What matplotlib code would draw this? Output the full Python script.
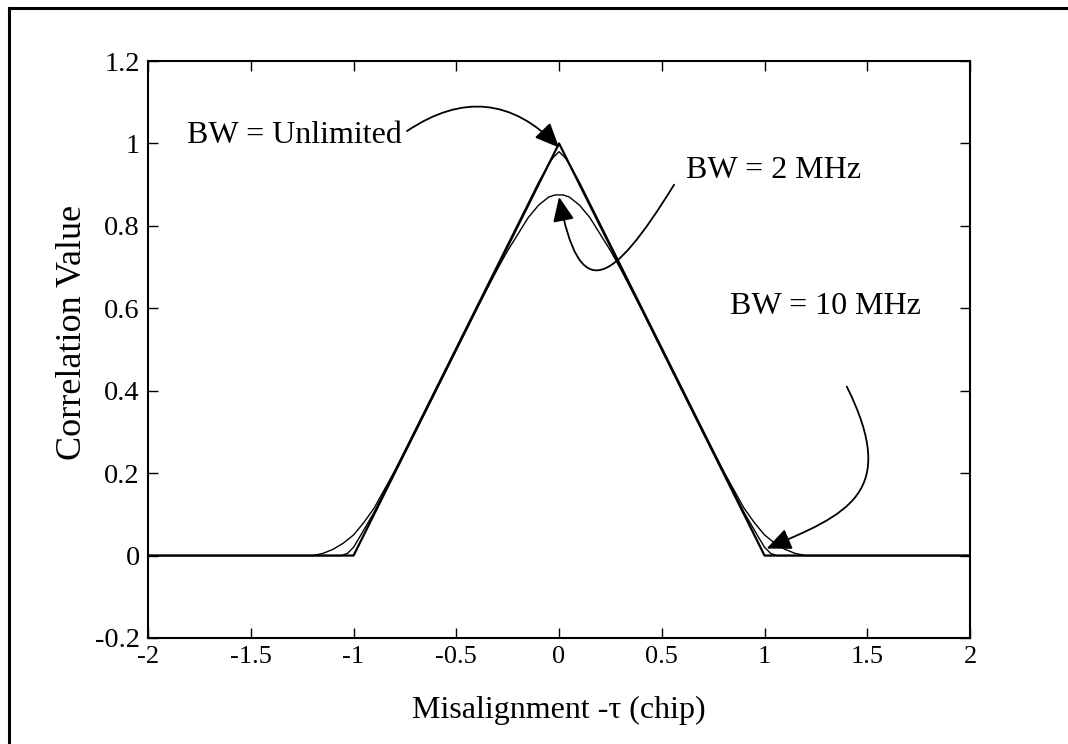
import numpy as np
import matplotlib
matplotlib.use("Agg")
import matplotlib.pyplot as plt
from matplotlib.patches import FancyArrowPatch
from matplotlib.path import Path
from matplotlib.lines import Line2D

plt.rcParams['font.family'] = ['Liberation Serif', 'DejaVu Serif']

# correlation curves (left half, mirrored below)
tau_unlim = [-2.0, -1.0, 0.0, 1.0, 2.0]
corr_unlim = [0.0, 0.0, 1.0, 0.0, 0.0]

tau_10_half = [-2.0, -1.06, -1.03, -1.0, -0.97, -0.9, -0.5, -0.1, -0.05, -0.03, 0.0]
corr_10_half = [0.0, 0.0, 0.005, 0.02, 0.045, 0.105, 0.505, 0.905, 0.95, 0.965, 0.98]

tau_2_half = [-2.0, -1.2, -1.15, -1.1, -1.05, -1.0, -0.95, -0.9, -0.8, -0.7, -0.6,
              -0.5, -0.4, -0.3, -0.25, -0.2, -0.15, -0.1, -0.05, -0.02, 0.0]
corr_2_half = [0.0, 0.0, 0.005, 0.015, 0.03, 0.05, 0.08, 0.115, 0.205, 0.30, 0.40,
               0.50, 0.60, 0.695, 0.74, 0.78, 0.82, 0.85, 0.87, 0.875, 0.875]


def mirror(t, c):
    t = list(t) + [-v for v in reversed(t[:-1])]
    c = list(c) + list(reversed(c[:-1]))
    return t, c


tau_10, corr_10 = mirror(tau_10_half, corr_10_half)
tau_2, corr_2 = mirror(tau_2_half, corr_2_half)

fig = plt.figure(figsize=(10.68, 7.44), dpi=100)
ax = fig.add_axes([0.1386, 0.1425, 0.7697, 0.7755])

ax.plot(tau_unlim, corr_unlim, color="black", lw=1.6)
ax.plot(tau_10, corr_10, color="black", lw=1.0)
ax.plot(tau_2, corr_2, color="black", lw=1.0)

ax.set_xlim(-2, 2)
ax.set_ylim(-0.2, 1.2)
ax.set_xticks(np.arange(-2, 2.01, 0.5))
ax.set_xticklabels(["-2", "-1.5", "-1", "-0.5", "0", "0.5", "1", "1.5", "2"])
ax.set_yticks(np.arange(-0.2, 1.21, 0.2))
ax.set_yticklabels(["-0.2", "0", "0.2", "0.4", "0.6", "0.8", "1", "1.2"])
ax.tick_params(direction="in", length=7, width=1.0, top=True, right=True, pad=6)
ax.tick_params(axis="x", labelsize=19)
ax.tick_params(axis="y", labelsize=20.5)
for sp in ax.spines.values():
    sp.set_linewidth(1.5)

ax.set_xlabel("Misalignment -\u03c4 (chip)", fontsize=23)
ax.set_ylabel("Correlation Value", fontsize=26)
ax.xaxis.set_label_coords(0.5, -0.10)
ax.yaxis.set_label_coords(-0.072, 0.53)

head = "-|>,head_length=0.5,head_width=0.22"

# BW = Unlimited
ax.text(-1.81, 1.02, "BW = Unlimited", fontsize=23, va="center", ha="left")
ax.annotate("", xy=(0.0, 0.99), xytext=(-0.74, 1.03),
            arrowprops=dict(arrowstyle=head, color="black", lw=1.3,
                            mutation_scale=30, shrinkA=0, shrinkB=0,
                            connectionstyle="arc3,rad=-0.42"))

# BW = 2 MHz
ax.text(0.62, 0.935, "BW = 2 MHz", fontsize=23, va="center", ha="left")
p2 = Path([(0.56, 0.90), (0.25, 0.65), (0.10, 0.61), (0.0, 0.87)],
          [Path.MOVETO, Path.CURVE4, Path.CURVE4, Path.CURVE4])
ax.add_patch(FancyArrowPatch(path=p2, arrowstyle=head, color="black",
                             lw=1.3, mutation_scale=30))

# BW = 10 MHz
ax.text(0.83, 0.605, "BW = 10 MHz", fontsize=23, va="center", ha="left")
p10 = Path([(1.40, 0.41), (1.66, 0.15), (1.40, 0.10), (1.01, 0.017)],
           [Path.MOVETO, Path.CURVE4, Path.CURVE4, Path.CURVE4])
ax.add_patch(FancyArrowPatch(path=p10, arrowstyle=head, color="black",
                             lw=1.3, mutation_scale=30))

# outer frame (only top and left edges visible in the reference)
fig.add_artist(Line2D([9 / 1068, 1.01], [1 - 7.5 / 744, 1 - 7.5 / 744],
                      color="black", lw=2.2, transform=fig.transFigure))
fig.add_artist(Line2D([9 / 1068, 9 / 1068], [-0.01, 1 - 7.5 / 744],
                      color="black", lw=2.2, transform=fig.transFigure))

fig.savefig("out.png", dpi=100)
